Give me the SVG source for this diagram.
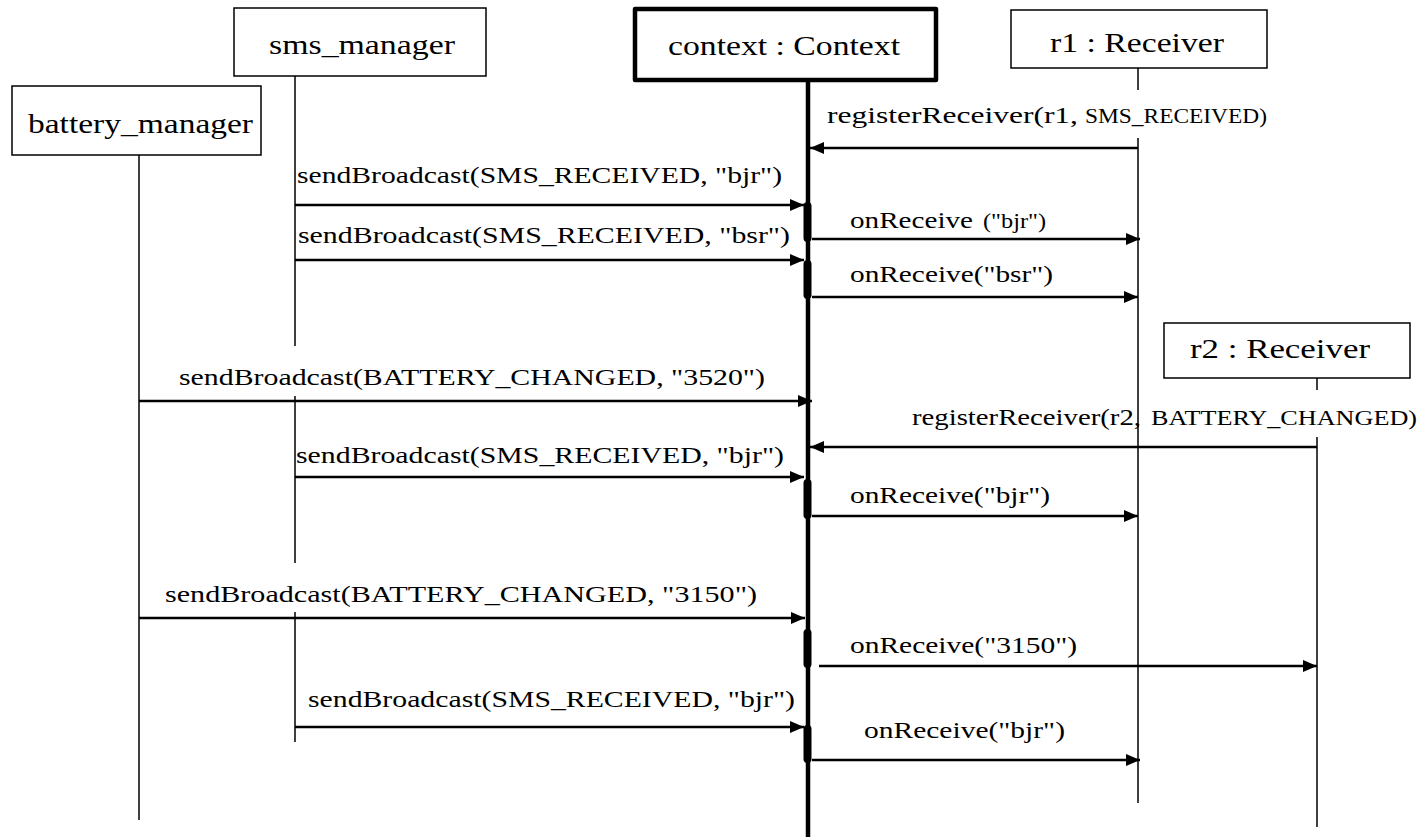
<svg xmlns="http://www.w3.org/2000/svg" width="1422" height="837" viewBox="0 0 1422 837">
  <style>
    .box { fill: #ffffff; stroke: #000000; stroke-width: 1.5; }
    .box-main { fill: #ffffff; stroke: #000000; stroke-width: 4.5; stroke-linejoin: round; }
    .life { stroke: #000000; stroke-width: 1.5; fill: none; }
    .life-main { stroke: #000000; stroke-width: 4.5; fill: none; }
    .act { stroke: #000000; stroke-width: 8; stroke-linecap: round; fill: none; }
    .msg { stroke: #000000; stroke-width: 2.5; fill: none; marker-end: url(#head); }
    text { fill: #000000; }
    .lbl { font-size: 23px; }
    .small { font-size: 20px; }
    .name { font-size: 28px; }
  </style>
  <defs>
    <marker id="head" markerUnits="userSpaceOnUse" markerWidth="15" markerHeight="12" refX="14" refY="6" orient="auto">
      <path d="M0,0 L14,6 L0,12 Z" fill="#000000"/>
    </marker>
  </defs>

  <g font-family="'Liberation Serif', 'DejaVu Serif', serif">
  <!-- participants with their lifelines -->
  <g id="battery_manager">
    <line class="life" x1="139" y1="155" x2="139" y2="820"/>
    <rect class="box" x="12" y="86" width="249" height="69"/>
    <text class="name" x="28" y="133" textLength="225" lengthAdjust="spacingAndGlyphs">battery_manager</text>
  </g>

  <g id="sms_manager">
    <path class="life" d="M295,76 V346 M295,396 V563 M295,612 V742"/>
    <rect class="box" x="234" y="8" width="252" height="68"/>
    <text class="name" x="269" y="54" textLength="186" lengthAdjust="spacingAndGlyphs">sms_manager</text>
  </g>

  <g id="context">
    <line class="life-main" x1="808" y1="80" x2="808" y2="837"/>
    <rect class="box-main" x="635" y="9" width="301" height="71"/>
    <text class="name" x="668" y="55" textLength="232" lengthAdjust="spacingAndGlyphs">context : Context</text>
    <!-- activation bars -->
    <line class="act" x1="807.5" y1="206" x2="807.5" y2="238"/>
    <line class="act" x1="807.5" y1="264" x2="807.5" y2="295"/>
    <line class="act" x1="807.5" y1="483" x2="807.5" y2="515"/>
    <line class="act" x1="807.5" y1="633" x2="807.5" y2="664"/>
    <line class="act" x1="807.5" y1="729" x2="807.5" y2="759"/>
  </g>

  <g id="r1">
    <path class="life" d="M1138,68 V90 M1138,138 V803"/>
    <rect class="box" x="1011" y="10" width="256" height="58"/>
    <text class="name" x="1050" y="52" textLength="174" lengthAdjust="spacingAndGlyphs">r1 : Receiver</text>
  </g>

  <g id="r2">
    <path class="life" d="M1317,378 V390 M1317,437 V827"/>
    <rect class="box" x="1164" y="323" width="246" height="55"/>
    <text class="name" x="1190" y="358" textLength="180" lengthAdjust="spacingAndGlyphs">r2 : Receiver</text>
  </g>

  <!-- messages -->
  <g id="connectors">
    <line class="msg" x1="1138" y1="148" x2="810" y2="148"/>
    <line class="msg" x1="295" y1="205" x2="804" y2="205"/>
    <line class="msg" x1="812" y1="239" x2="1140" y2="239"/>
    <line class="msg" x1="295" y1="260" x2="804" y2="260"/>
    <line class="msg" x1="812" y1="297" x2="1138" y2="297"/>
    <line class="msg" x1="139" y1="401" x2="812" y2="401"/>
    <line class="msg" x1="1317" y1="447" x2="810" y2="447"/>
    <line class="msg" x1="295" y1="477" x2="804" y2="477"/>
    <line class="msg" x1="812" y1="516" x2="1138" y2="516"/>
    <line class="msg" x1="139" y1="618" x2="805" y2="618"/>
    <line class="msg" x1="819" y1="666" x2="1317" y2="666"/>
    <line class="msg" x1="295" y1="727" x2="804" y2="727"/>
    <line class="msg" x1="812" y1="760" x2="1140" y2="760"/>
  </g>

  <g id="labels">
    <text class="lbl" y="123"><tspan x="827" textLength="251" lengthAdjust="spacingAndGlyphs">registerReceiver(r1,</tspan><tspan class="small" x="1085" textLength="182" lengthAdjust="spacingAndGlyphs">SMS_RECEIVED)</tspan></text>
    <text class="lbl" x="297" y="183" textLength="485" lengthAdjust="spacingAndGlyphs">sendBroadcast(SMS_RECEIVED, "bjr")</text>
    <text class="lbl" y="228"><tspan x="850" textLength="123" lengthAdjust="spacingAndGlyphs">onReceive</tspan><tspan class="small" x="983" textLength="63" lengthAdjust="spacingAndGlyphs" font-size="19">("bjr")</tspan></text>
    <text class="lbl" x="298" y="243" textLength="492" lengthAdjust="spacingAndGlyphs">sendBroadcast(SMS_RECEIVED, "bsr")</text>
    <text class="lbl" x="850" y="282" textLength="203" lengthAdjust="spacingAndGlyphs">onReceive("bsr")</text>
    <text class="lbl" x="179" y="385" textLength="586" lengthAdjust="spacingAndGlyphs">sendBroadcast(BATTERY_CHANGED, "3520")</text>
    <text class="lbl" y="425"><tspan x="912" textLength="229" lengthAdjust="spacingAndGlyphs">registerReceiver(r2,</tspan><tspan class="small" x="1151" textLength="266" lengthAdjust="spacingAndGlyphs">BATTERY_CHANGED)</tspan></text>
    <text class="lbl" x="296" y="463" textLength="488" lengthAdjust="spacingAndGlyphs">sendBroadcast(SMS_RECEIVED, "bjr")</text>
    <text class="lbl" x="850" y="503" textLength="200" lengthAdjust="spacingAndGlyphs">onReceive("bjr")</text>
    <text class="lbl" x="165" y="602" textLength="592" lengthAdjust="spacingAndGlyphs">sendBroadcast(BATTERY_CHANGED, "3150")</text>
    <text class="lbl" x="850" y="653" textLength="227" lengthAdjust="spacingAndGlyphs">onReceive("3150")</text>
    <text class="lbl" x="308" y="707" textLength="487" lengthAdjust="spacingAndGlyphs">sendBroadcast(SMS_RECEIVED, "bjr")</text>
    <text class="lbl" x="864" y="738" textLength="201" lengthAdjust="spacingAndGlyphs">onReceive("bjr")</text>
  </g>
  </g>
</svg>
